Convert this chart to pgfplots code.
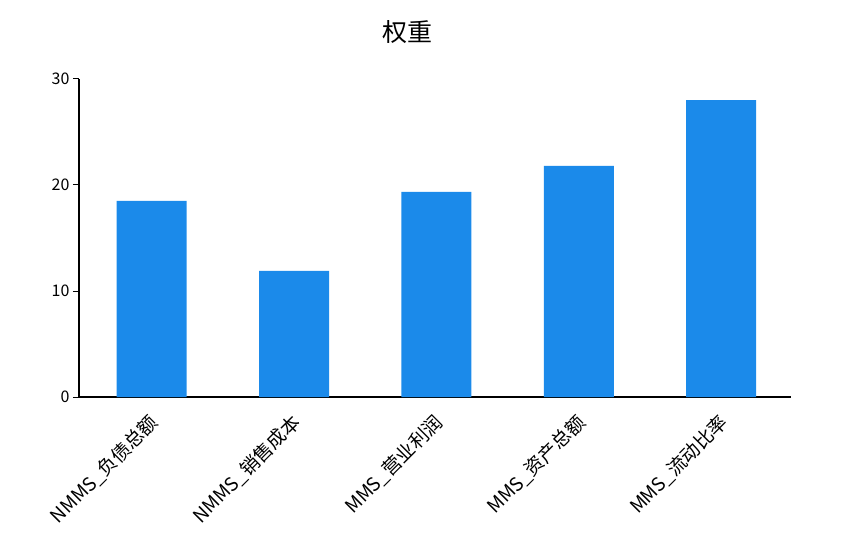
\documentclass[border=0pt]{standalone}
\usepackage{fontspec}
\setmainfont{Noto Sans CJK SC}
\usepackage{pgfplots}
\pgfplotsset{compat=1.18}
\definecolor{barblue}{RGB}{27,138,234}

\begin{document}
\begin{tikzpicture}
\path[use as bounding box] (-79pt,-135pt) rectangle (763pt,397pt);
\begin{axis}[
    at={(0,0)}, anchor=south west,
    scale only axis,
    width=712pt, height=318pt,
    xmin=-0.51, xmax=4.49,
    ymin=0, ymax=30,
    axis x line=bottom, axis y line=left,
    axis line style={-, line width=1.2pt, black},
    xtick=data,
    xticklabels={NMMS\_负债总额, NMMS\_销售成本, MMS\_营业利润, MMS\_资产总额, MMS\_流动比率},
    x tick style={draw=none},
    xticklabel style={rotate=45, anchor=north east, font=\fontsize{19}{22}\selectfont, inner sep=1pt, yshift=-3pt, xshift=-8pt},
    ytick={0,10,20,30},
    tick align=outside,
    major tick length=6pt,
    y tick style={line width=1pt, black},
    yticklabel style={font=\fontsize{16}{19}\selectfont},
    /pgf/number format/assume math mode=true,
    title={权重},
    title style={at={(axis description cs:0.462,1.13)}, anchor=center, font=\fontsize{25}{29}\selectfont},
]
\addplot[ybar, bar width=70pt, fill=barblue, draw=none] coordinates {
    (0, 18.5)
    (1, 11.9)
    (2, 19.35)
    (3, 21.8)
    (4, 28.0)
};
\end{axis}
\end{tikzpicture}
\end{document}
